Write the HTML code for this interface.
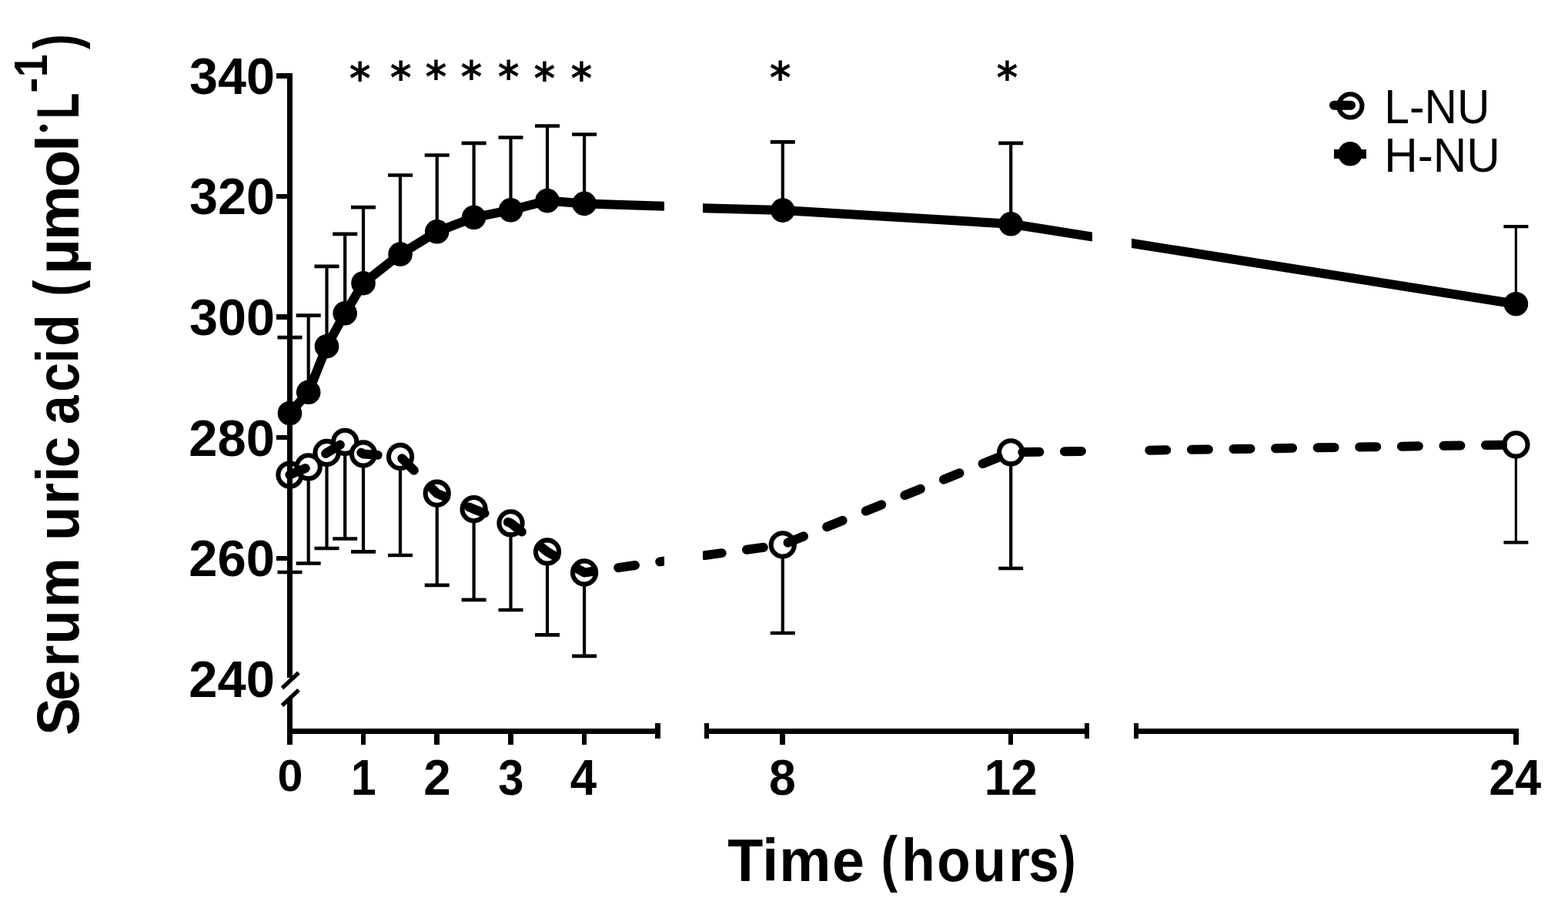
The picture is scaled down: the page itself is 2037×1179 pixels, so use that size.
<!DOCTYPE html>
<html lang="en"><head><meta charset="utf-8"><title>Serum uric acid</title>
<style>html,body{margin:0;padding:0;background:#fff;overflow:hidden}svg{display:block}text{font-family:"Liberation Sans",sans-serif;fill:#000}.b{font-weight:bold}.ast{font-family:"DejaVu Sans",sans-serif}.ser{font-family:"Liberation Serif",serif}</style></head><body>
<svg width="2037" height="1179" viewBox="0 0 2037 1179">
<rect width="2037" height="1179" fill="#fff"/>
<defs>
<clipPath id="c1"><rect x="360" y="0" width="503" height="940"/></clipPath>
<clipPath id="c2"><rect x="913" y="0" width="506" height="940"/></clipPath>
<clipPath id="c3"><rect x="1470" y="0" width="560" height="940"/></clipPath>
</defs>
<g stroke="#000" fill="none" stroke-linecap="butt">
<path stroke-width="4.2" d="M376.5 536.5V438.1M376.5 616.6V743.0"/>
<path stroke-width="4.7" d="M360.5 438.1H392.5M360.5 743.0H392.5"/>
<path stroke-width="4.2" d="M400.7 509.3V409.6M400.7 606.3V731.5"/>
<path stroke-width="4.7" d="M384.7 409.6H416.7M384.7 731.5H416.7"/>
<path stroke-width="4.2" d="M424.5 449.7V345.9M424.5 588.0V712.0"/>
<path stroke-width="4.7" d="M408.5 345.9H440.5M408.5 712.0H440.5"/>
<path stroke-width="4.2" d="M448.2 406.8V303.9M448.2 573.8V699.5"/>
<path stroke-width="4.7" d="M432.2 303.9H464.2M432.2 699.5H464.2"/>
<path stroke-width="4.2" d="M472.0 367.7V269.1M472.0 589.5V716.4"/>
<path stroke-width="4.7" d="M456.0 269.1H488.0M456.0 716.4H488.0"/>
<path stroke-width="4.2" d="M520.0 330.1V227.5M520.0 593.0V721.0"/>
<path stroke-width="4.7" d="M504.0 227.5H536.0M504.0 721.0H536.0"/>
<path stroke-width="4.2" d="M567.7 300.8V201.5M567.7 640.7V759.8"/>
<path stroke-width="4.7" d="M551.7 201.5H583.7M551.7 759.8H583.7"/>
<path stroke-width="4.2" d="M615.6 282.3V185.9M615.6 661.1V778.8"/>
<path stroke-width="4.7" d="M599.6 185.9H631.6M599.6 778.8H631.6"/>
<path stroke-width="4.2" d="M663.5 272.8V178.5M663.5 679.3V792.0"/>
<path stroke-width="4.7" d="M647.5 178.5H679.5M647.5 792.0H679.5"/>
<path stroke-width="4.2" d="M711.0 260.6V163.5M711.0 716.5V824.4"/>
<path stroke-width="4.7" d="M695.0 163.5H727.0M695.0 824.4H727.0"/>
<path stroke-width="4.2" d="M759.1 264.4V174.5M759.1 743.5V851.9"/>
<path stroke-width="4.7" d="M743.1 174.5H775.1M743.1 851.9H775.1"/>
<path stroke-width="4.2" d="M1016.8 273.1V184.4M1016.8 707.4V822.0"/>
<path stroke-width="4.7" d="M1000.8 184.4H1032.8M1000.8 822.0H1032.8"/>
<path stroke-width="4.2" d="M1313.2 290.8V185.9M1313.2 587.3V738.0"/>
<path stroke-width="4.7" d="M1297.2 185.9H1329.2M1297.2 738.0H1329.2"/>
<path stroke-width="3.2" d="M1969.4 394.7V294.1M1969.4 577.4V704.4"/>
<path stroke-width="4.2" d="M1953.4 294.1H1985.4M1953.4 704.4H1985.4"/>
</g>
<g fill="#000">
<circle cx="376.5" cy="536.5" r="15.8"/>
<circle cx="400.7" cy="509.3" r="15.8"/>
<circle cx="424.5" cy="449.7" r="15.8"/>
<circle cx="448.2" cy="406.8" r="15.8"/>
<circle cx="472.0" cy="367.7" r="15.8"/>
<circle cx="520.0" cy="330.1" r="15.8"/>
<circle cx="567.7" cy="300.8" r="15.8"/>
<circle cx="615.6" cy="282.3" r="15.8"/>
<circle cx="663.5" cy="272.8" r="15.8"/>
<circle cx="711.0" cy="260.6" r="15.8"/>
<circle cx="759.1" cy="264.4" r="15.8"/>
<circle cx="1016.8" cy="273.1" r="15.8"/>
<circle cx="1313.2" cy="290.8" r="15.8"/>
<circle cx="1969.4" cy="394.7" r="15.8"/>
</g>
<g fill="#fff" stroke="#000" stroke-width="6.1">
<circle cx="376.5" cy="616.6" r="15.1"/>
<circle cx="400.7" cy="606.3" r="15.1"/>
<circle cx="424.5" cy="588.0" r="15.1"/>
<circle cx="448.2" cy="573.8" r="15.1"/>
<circle cx="472.0" cy="589.5" r="15.1"/>
<circle cx="520.0" cy="593.0" r="15.1"/>
<circle cx="567.7" cy="640.7" r="15.1"/>
<circle cx="615.6" cy="661.1" r="15.1"/>
<circle cx="663.5" cy="679.3" r="15.1"/>
<circle cx="711.0" cy="716.5" r="15.1"/>
<circle cx="759.1" cy="743.5" r="15.1"/>
<circle cx="1016.8" cy="707.4" r="15.1"/>
<circle cx="1313.2" cy="587.3" r="15.1"/>
<circle cx="1969.4" cy="577.4" r="15.1"/>
</g>
<polyline clip-path="url(#c1)" points="376.5,536.5 400.7,509.3 424.5,449.7 448.2,406.8 472.0,367.7 520.0,330.1 567.7,300.8 615.6,282.3 663.5,272.8 711.0,260.6 759.1,264.4 870.0,268.0" fill="none" stroke="#000" stroke-width="12" stroke-linejoin="round"/>
<polyline clip-path="url(#c2)" points="905.0,269.9 1016.8,273.1 1313.2,290.8 1425.0,308.5" fill="none" stroke="#000" stroke-width="12" stroke-linejoin="round"/>
<polyline clip-path="url(#c3)" points="1462.0,314.6 1969.4,394.7" fill="none" stroke="#000" stroke-width="12" stroke-linejoin="round"/>
<polyline clip-path="url(#c1)" points="376.5,616.6 400.7,606.3 424.5,588.0 448.2,573.8 472.0,589.5 520.0,593.0 567.7,640.7 615.6,661.1 663.5,679.3 711.0,716.5 759.1,743.5 900.0,723.2" fill="none" stroke="#000" stroke-width="12" stroke-linecap="round" stroke-linejoin="round" stroke-dasharray="22 32.6" stroke-dashoffset="0"/>
<polyline clip-path="url(#c2)" points="880.0,726.0 1016.8,707.4 1313.2,587.3 1440.0,585.4" fill="none" stroke="#000" stroke-width="12" stroke-linecap="round" stroke-linejoin="round" stroke-dasharray="22 32.6" stroke-dashoffset="18.4"/>
<polyline clip-path="url(#c3)" points="1430.0,585.6 1969.4,577.4" fill="none" stroke="#000" stroke-width="12" stroke-linecap="round" stroke-linejoin="round" stroke-dasharray="22 32.6" stroke-dashoffset="45.9"/>
<g fill="#000">
<rect x="373" y="95" width="7" height="785"/>
<rect x="373" y="906" width="7" height="61"/>
<rect x="359" y="95" width="15" height="7"/>
<rect x="359" y="252" width="15" height="6"/>
<rect x="359" y="408" width="15" height="7"/>
<rect x="359" y="565" width="15" height="6"/>
<rect x="359" y="722" width="15" height="6"/>
<rect x="373" y="946" width="485" height="7"/>
<rect x="915" y="946" width="500" height="7"/>
<rect x="1473" y="946" width="500" height="7"/>
<rect x="851" y="939" width="7" height="20"/>
<rect x="915" y="939" width="6" height="20"/>
<rect x="1409" y="939" width="6" height="20"/>
<rect x="1473" y="939" width="6" height="20"/>
<rect x="469" y="950" width="6" height="17"/>
<rect x="564" y="950" width="7" height="17"/>
<rect x="660" y="950" width="7" height="17"/>
<rect x="756" y="950" width="6" height="17"/>
<rect x="1013" y="950" width="7" height="17"/>
<rect x="1310" y="950" width="6" height="17"/>
<rect x="1966" y="950" width="7" height="17"/>
</g>
<g stroke="#000" stroke-width="5.2" stroke-linecap="butt">
<line x1="366.5" y1="893.5" x2="388" y2="873.5"/>
<line x1="366.5" y1="916" x2="388" y2="896"/>
</g>
<text class="b" transform="matrix(1.0235 0 0 1.0119 245.96 122.14)" font-size="65">340</text>
<text class="b" transform="matrix(1.0235 0 0 1.0119 245.96 278.44)" font-size="65">320</text>
<text class="b" transform="matrix(1.0235 0 0 1.0119 245.96 435.44)" font-size="65">300</text>
<text class="b" transform="matrix(1.0309 0 0 1.0119 245.18 592.34)" font-size="65">280</text>
<text class="b" transform="matrix(1.0309 0 0 1.0119 245.18 748.04)" font-size="65">260</text>
<text class="b" transform="matrix(1.0309 0 0 1.0119 245.18 904.94)" font-size="65">240</text>
<text class="b" transform="matrix(0.9129 0 0 0.8787 360.42 1026.56)" font-size="65">0</text>
<text class="b" transform="matrix(0.9025 0 0 0.9899 456.09 1032.10)" font-size="65">1</text>
<text class="b" transform="matrix(0.9792 0 0 1.0011 550.30 1032.10)" font-size="65">2</text>
<text class="b" transform="matrix(0.9178 0 0 1.0087 647.22 1032.24)" font-size="65">3</text>
<text class="b" transform="matrix(0.9525 0 0 0.9855 740.75 1031.90)" font-size="65">4</text>
<text class="b" transform="matrix(0.9643 0 0 1.0077 999.07 1032.40)" font-size="65">8</text>
<text class="b" transform="matrix(0.9521 0 0 0.9923 1278.79 1032.10)" font-size="65">12</text>
<text class="b" transform="matrix(0.9391 0 0 1.0011 1934.39 1032.10)" font-size="65">24</text>
<text class="b" transform="matrix(0.9681 0 0 1.0000 0 1144.20)" x="976.30 1022.87 1045.67 1116.62" font-size="78">Time</text>
<text class="b" transform="matrix(0.8276 0 0 1.0103 1144.59 1142.08)" font-size="78">(</text>
<text class="b" transform="matrix(0.9112 0 0 1.0000 0 1144.20)" x="1285.31 1336.00 1386.60 1437.81 1466.59" font-size="78">hours</text>
<text class="b" transform="matrix(0.8138 0 0 1.0103 1376.50 1142.08)" font-size="78">)</text>
<text class="b" transform="matrix(0 -0.9304 1.0000 0 102.30 950.00)" x="-4.99 43.26 90.44 122.12 173.31" font-size="78">Serum</text>
<text class="b" transform="matrix(0 -0.9294 1.0000 0 102.30 950.00)" x="266.88 317.37 348.92 368.73" font-size="78">uric</text>
<text class="b" transform="matrix(0 -0.8686 1.0000 0 102.30 950.00)" x="459.49 507.94 551.01 576.02" font-size="78">acid</text>
<text class="b" transform="matrix(0 -0.8138 1.0186 0 100.45 384.76)" font-size="78">(</text>
<text class="b" transform="matrix(0 -1.0249 1.0000 0 102.30 950.00)" x="579.30 622.23 689.41 734.73" font-size="78">µmol</text>
<text class="b ser" transform="matrix(0 -0.7520 0.8400 0 78.38 176.18)" font-size="78">·</text>
<text class="b" transform="matrix(0 -0.7125 1.0000 0 102.30 154.54)" font-size="78">L</text>
<text class="b" transform="matrix(0 -1.0441 1.0143 0 60.46 120.75)" font-size="58">-</text>
<text class="b" transform="matrix(0 -0.9111 1.0390 0 61.00 100.12)" font-size="58">1</text>
<text class="b" transform="matrix(0 -0.7586 1.0186 0 100.45 63.99)" font-size="78">)</text>
<text class="ast b" transform="matrix(0.9495 0 0 1.0269 453.71 121.82)" font-size="56">*</text>
<text class="ast b" transform="matrix(0.9495 0 0 1.0269 506.71 120.92)" font-size="56">*</text>
<text class="ast b" transform="matrix(0.9495 0 0 1.0269 552.61 119.72)" font-size="56">*</text>
<text class="ast b" transform="matrix(0.9495 0 0 1.0269 598.61 119.72)" font-size="56">*</text>
<text class="ast b" transform="matrix(0.9495 0 0 1.0269 646.71 119.72)" font-size="56">*</text>
<text class="ast b" transform="matrix(0.9495 0 0 1.0269 693.61 121.82)" font-size="56">*</text>
<text class="ast b" transform="matrix(0.9495 0 0 1.0269 741.61 121.82)" font-size="56">*</text>
<text class="ast b" transform="matrix(0.9495 0 0 1.0269 999.71 120.72)" font-size="56">*</text>
<text class="ast b" transform="matrix(0.9495 0 0 1.0269 1294.61 120.72)" font-size="56">*</text>
<circle cx="1754.3" cy="137.4" r="15.1" fill="#fff" stroke="#000" stroke-width="6.1"/>
<line x1="1733" y1="136.8" x2="1755" y2="136.8" stroke="#000" stroke-width="12" stroke-linecap="round"/>
<circle cx="1754" cy="199.8" r="15.8" fill="#000"/>
<line x1="1733" y1="200" x2="1775" y2="200" stroke="#000" stroke-width="12"/>
<text transform="matrix(0.9178 0 0 0.9910 1798.28 159.90)" font-size="64">L-NU</text>
<text transform="matrix(0.9409 0 0 0.9955 1798.16 222.80)" font-size="64">H-NU</text>
</svg></body></html>
